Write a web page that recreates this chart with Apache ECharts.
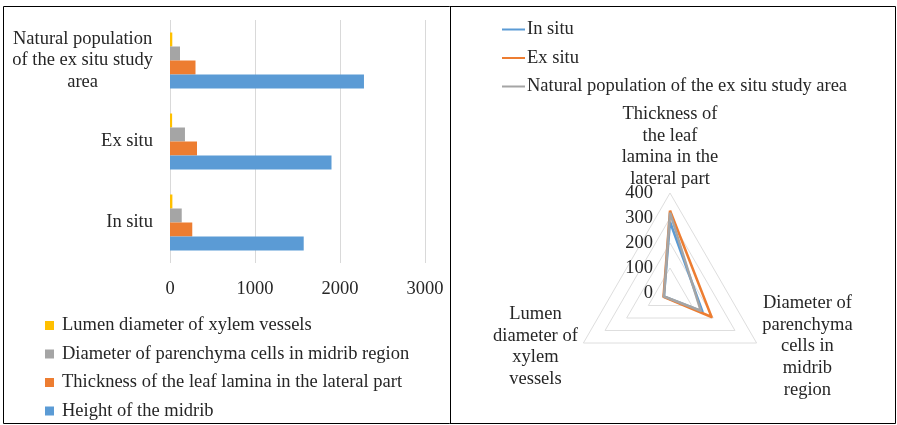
<!DOCTYPE html>
<html><head><meta charset="utf-8">
<script src="https://cdn.jsdelivr.net/npm/echarts@6/dist/echarts.min.js"></script>
<style>html,body{margin:0;padding:0;background:#fff}#c{width:897px;height:425px}</style>
</head><body><div id="c"></div>
<script>
// ---- data ----
const categories = ['In situ', 'Ex situ', 'Natural population of the ex situ study area'];
const heightMidrib = [1573, 1900, 2282];
const thicknessLamina = [262, 318, 300];
const parenchymaDiam = [138, 176, 118];
const lumenDiam = [28, 25, 27];
const barSeriesNames = ['Lumen diameter of xylem vessels', 'Diameter of parenchyma cells in midrib region', 'Thickness of the leaf lamina in the lateral part', 'Height of the midrib'];
const xTicks = [0, 1000, 2000, 3000];

const radarIndicators = ['Thickness of the leaf lamina in the lateral part', 'Lumen diameter of xylem vessels', 'Diameter of parenchyma cells in midrib region'];
const radarInSitu = [285, 28, 150];
const radarExSitu = [330, 30, 192];
const radarNatural = [322, 28, 142];
const radarTicks = [0, 100, 200, 300, 400];

// ---- styles ----
const FONT = 'Liberation Serif';
const FS = 18.5;
const TXT = '#262626';
const C_BLUE = '#5b9bd5', C_ORANGE = '#ed7d31', C_GRAY = '#a5a5a5', C_YELLOW = '#ffc000';

const catBreaks = {
  'Natural population of the ex situ study area': ['Natural population', 'of the ex situ study', 'area']
};
const nameBreaks = {
  'Thickness of the leaf lamina in the lateral part': ['Thickness of', 'the leaf', 'lamina in the', 'lateral part'],
  'Lumen diameter of xylem vessels': ['Lumen', 'diameter of', 'xylem', 'vessels'],
  'Diameter of parenchyma cells in midrib region': ['Diameter of', 'parenchyma', 'cells in', 'midrib', 'region']
};
function centered(lines) { return lines.map(l => '{c|' + l + '}').join('\n'); }
const richC = { c: { align: 'center', fontFamily: FONT, fontSize: FS, color: TXT, lineHeight: 21.6 } };

const chart = echarts.init(document.getElementById('c'), null, { renderer: 'canvas' });
const barColors = [C_YELLOW, C_GRAY, C_ORANGE, C_BLUE];
const barData = [lumenDiam, parenchymaDiam, thicknessLamina, heightMidrib];

const option = {
  backgroundColor: '#fff',
  animation: false,
  textStyle: { fontFamily: FONT },
  graphic: [
    { type: 'rect', shape: { x: 3.5, y: 6.5, width: 892, height: 417 }, style: { fill: 'none', stroke: '#000', lineWidth: 1 }, silent: true },
    { type: 'line', shape: { x1: 450.5, y1: 6.5, x2: 450.5, y2: 423.5 }, style: { stroke: '#000', lineWidth: 1 }, silent: true }
  ],
  grid: [
    { left: 170, width: 255, top: 20, height: 243 },
    { left: 670, width: 1, top: 193, height: 100 }
  ],
  xAxis: [
    { type: 'value', gridIndex: 0, min: xTicks[0], max: xTicks[xTicks.length - 1], interval: 1000,
      axisLine: { show: false }, axisTick: { show: false },
      splitLine: { lineStyle: { color: '#d9d9d9', width: 1 } },
      axisLabel: { fontFamily: FONT, fontSize: FS, color: TXT, margin: 17, formatter: v => String(v) } },
    { type: 'value', gridIndex: 1, show: false }
  ],
  yAxis: [
    { type: 'category', gridIndex: 0, data: categories,
      axisLine: { show: false }, axisTick: { show: false },
      axisLabel: { margin: 17, formatter: v => centered(catBreaks[v] || [v]), rich: richC } },
    { type: 'value', gridIndex: 1, min: radarTicks[0], max: radarTicks[radarTicks.length - 1], interval: 100,
      axisLine: { show: false }, axisTick: { show: false }, splitLine: { show: false },
      axisLabel: { fontFamily: FONT, fontSize: FS, color: TXT, margin: 17, formatter: v => String(v) } }
  ],
  legend: [
    { orient: 'vertical', left: 45, top: 316, padding: 0, itemWidth: 9, itemHeight: 9, itemGap: 9.5, icon: 'rect',
      data: barSeriesNames.slice(),
      textStyle: { fontFamily: FONT, fontSize: FS, color: TXT, lineHeight: 18, padding: [0, 0, 0, 3] } },
    { orient: 'vertical', left: 502, top: 20, padding: 0, itemWidth: 23, itemHeight: 2, itemGap: 9.5, icon: 'rect',
      data: ['In situ', 'Ex situ', categories[2]],
      textStyle: { fontFamily: FONT, fontSize: FS, color: TXT, lineHeight: 18, padding: [0, 0, 0, -3] } }
  ],
  radar: {
    center: [670, 293], radius: 100, startAngle: 90, shape: 'polygon', splitNumber: 4,
    indicator: radarIndicators.map(n => ({ name: n, max: 400, min: 0 })),
    axisName: { formatter: n => centered(nameBreaks[n] || [n]), rich: richC, padding: [4, 3, 0, 3] },
    nameGap: 3,
    splitLine: { lineStyle: { color: '#dedede', width: 1 } },
    splitArea: { show: false },
    axisLine: { show: false },
    axisTick: { show: false }, axisLabel: { show: false }
  },
  series: barSeriesNames.map((n, i) => ({
    name: n, type: 'bar', xAxisIndex: 0, yAxisIndex: 0, data: barData[i],
    itemStyle: { color: barColors[i] }, barWidth: 14, barGap: '0%'
  })).concat([
    { type: 'radar', symbol: 'none',
      data: [
        { name: 'In situ', value: radarInSitu, lineStyle: { color: C_BLUE, width: 2.5 }, itemStyle: { color: C_BLUE } },
        { name: 'Ex situ', value: radarExSitu, lineStyle: { color: C_ORANGE, width: 2.5 }, itemStyle: { color: C_ORANGE } },
        { name: categories[2], value: radarNatural, lineStyle: { color: C_GRAY, width: 2.5 }, itemStyle: { color: C_GRAY } }
      ] }
  ])
};
chart.setOption(option);
</script></body></html>
